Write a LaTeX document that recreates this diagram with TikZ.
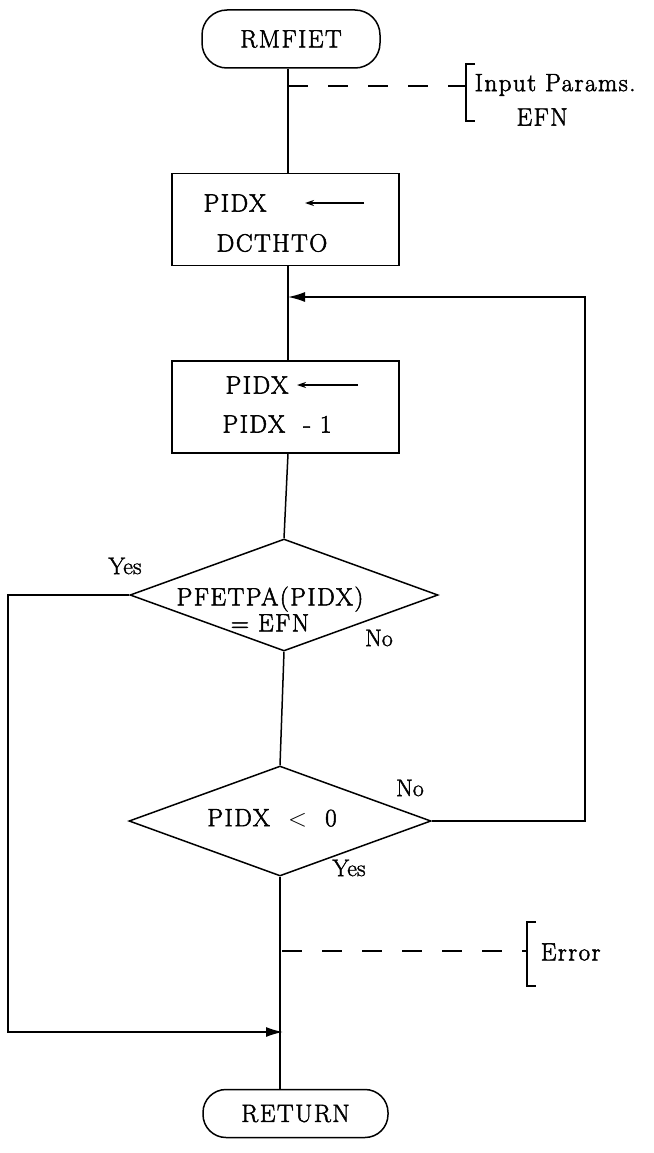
\documentclass[tikz,border=0pt]{standalone}
\usepackage{fontspec}
\setmainfont{Latin Modern Roman}
\newfontfamily\tw{Latin Modern Roman}[FakeBold=2,LetterSpace=6]
\newfontfamily\twl{Latin Modern Roman}[FakeBold=1.5]
\usetikzlibrary{shapes.geometric,arrows.meta}
\begin{document}
\begin{tikzpicture}[x=1pt,y=-1pt,
  line width=1.5pt,
  txt/.style={font=\tw\fontsize{25}{29}\selectfont, inner sep=0pt},
  lbl/.style={font=\twl\fontsize{24}{28}\selectfont, inner sep=0pt},
  term/.style={draw, inner sep=0pt, font=\tw\fontsize{25}{29}\selectfont},
  procbox/.style={draw, minimum width=227pt, minimum height=92pt, inner sep=0pt},
  dia/.style={draw, diamond, inner sep=0pt},
  flow/.style={-{Latex[length=17pt,width=10pt]}},
  inarrow/.style={-{Stealth[length=9pt,width=6pt]}, line width=1.2pt},
  dashline/.style={dash pattern=on 20pt off 20pt}
]
\useasboundingbox (0,0) rectangle (653,1153);

% x of the main flow line
\coordinate (mx) at (288,0);

% terminals
\node[term, rounded corners=25pt, minimum width=178pt, minimum height=58pt] (start) at (291,39) {RMFIET};
\node[term, rounded corners=23pt, minimum width=185pt, minimum height=48pt] (ret) at (295.5,1113.5) {RETURN};

% process boxes
\node[procbox] (b1) at (285.5,219.5) {};
\node[txt] (b1a) at (235,203) {PIDX};
\node[txt] (b1b) at (272,243) {DCTHTO};
\draw[inarrow] (b1.center) ++(78.5,-16.5) coordinate (b1s) -- ++(-59,0) coordinate (b1e);

\node[procbox] (b2) at (285.5,407) {};
\node[txt] (b2a) at (257,385) {PIDX};
\node[txt] (b2b) at (277,424) {PIDX\ \ - 1};
\draw[inarrow] (b2.center) ++(72.5,-22) coordinate (b2s) -- ++(-61,0) coordinate (b2e);

% decisions
\node[dia, minimum width=308pt, minimum height=112pt] (d1) at (284,595) {};
\node[txt, align=center] (d1t) at (270,609) {PFETPA(PIDX)\\[-3pt]= EFN};
\node[dia, minimum width=302pt, minimum height=110pt] (d2) at (280,821) {};
\node[txt] (d2t) at (272,818) {PIDX\ \ $<$\ \ 0};

% junction coordinates
\coordinate (j1) at (288,297);
\coordinate (j2) at (283,1032);
\coordinate (rx) at (585,297);
\coordinate (lx) at (8,595);

% main flow line
\draw (start.south -| mx) -- (b1.north -| mx);
\draw (b1.south -| mx) -- (b2.north -| mx);
\draw (b2.south -| mx) -- (d1.north);
\draw (d1.south) -- (d2.north);
\draw (d2.south) -- (ret.north -| d2.south);

% loop back
\draw[flow] (d2.east) -- (d2.east -| rx) -- (rx) -- (j1);

% yes branch
\draw[flow] (d1.west) -- (lx) -- (lx |- j2) -- (j2);

% labels
\node[lbl] (y1) at (125,566) {Yes};
\node[lbl] (n1) at (379,638) {No};
\node[lbl] (n2) at (410,788) {No};
\node[lbl] (y2) at (349,868) {Yes};

% annotations
\coordinate (a1) at (288,86);
\coordinate (br1) at (466,86);
\draw[dashline] (a1) -- (br1);
\draw (475,64) -- (466,64) -- (466,121) -- (475,121);
\node[txt, anchor=west] (ip) at (474,85) {Input Params.};
\node[txt] (efn) at (542,117) {EFN};

\coordinate (a2) at (282,951);
\coordinate (br2) at (527,951);
\draw[dashline] (a2) -- (br2);
\draw (536,922) -- (527,922) -- (527,986) -- (536,986);
\node[txt, anchor=west] (err) at (540,952) {Error};
\end{tikzpicture}
\end{document}
